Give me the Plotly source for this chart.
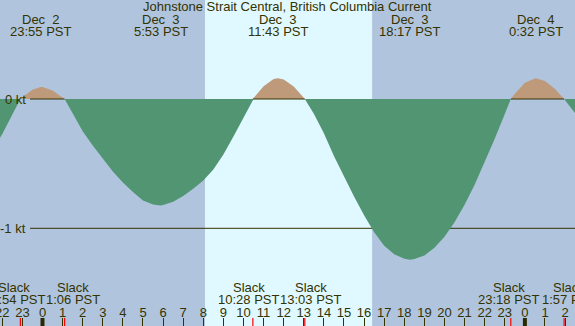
import plotly.graph_objects as go

# ---------------- data ----------------
title_text = "Johnstone Strait Central, British Columbia Current"

# hours since Dec 3 00:00 PST, current speed in knots
curve_hours = [-2.5, -2.0, -1.5, -1.1, -1.0, -0.5, -0.083, 0.0, 0.5, 1.0, 1.1,
               1.5, 2.0, 2.5, 3.0, 3.5, 4.0, 4.5, 5.0, 5.5, 5.883, 6.0, 6.5,
               7.0, 7.5, 8.0, 8.5, 9.0, 9.5, 10.0, 10.467, 10.5, 11.0, 11.5,
               11.717, 12.0, 12.5, 13.0, 13.05, 13.5, 14.0, 14.5, 15.0, 15.5,
               16.0, 16.5, 17.0, 17.5, 18.0, 18.283, 18.5, 19.0, 19.5, 20.0,
               20.5, 21.0, 21.5, 22.0, 22.5, 23.0, 23.3, 23.5, 24.0, 24.533,
               25.0, 25.5, 25.95, 26.5, 27.0]
curve_kt = [-0.40, -0.27, -0.12, 0.0, 0.014, 0.072, 0.093, 0.092, 0.066, 0.012, 0.0,
            -0.11, -0.25, -0.36, -0.46, -0.56, -0.645, -0.72, -0.785, -0.815, -0.823, -0.82, -0.795,
            -0.75, -0.695, -0.63, -0.545, -0.43, -0.29, -0.145, 0.0, 0.007, 0.099, 0.154,
            0.16, 0.151, 0.097, 0.009, 0.0, -0.115, -0.265, -0.44, -0.60, -0.755,
            -0.90, -1.03, -1.135, -1.20, -1.235, -1.243, -1.237, -1.21, -1.15, -1.065,
            -0.953, -0.818, -0.663, -0.491, -0.308, -0.116, 0.0, 0.040, 0.125, 0.16,
            0.139, 0.077, 0.0, -0.11, -0.22]

max_day_labels = ["Dec\u00a0\u00a02", "Dec\u00a0\u00a03", "Dec\u00a0\u00a03", "Dec\u00a0\u00a03", "Dec\u00a0\u00a04"]
max_day_offset = [-1, 0, 0, 0, 1]
max_times = ["23:55", "5:53", "11:43", "18:17", "0:32"]

slack_day_offset = [-1, 0, 0, 0, 0, 1]
slack_times = ["22:54", "1:06", "10:28", "13:03", "23:18", "1:57"]
flood_pairs = [(0, 1), (2, 3), (4, 5)]

sunrise, sunset = "8:05", "16:24"
midnights = [0, 24]
hour_ticks = list(range(-2, 27))
y_tick_vals = [0, -1]
y_tick_text = ["0 kt", "-1 kt"]

# ---------------- style ----------------
W, H = 575, 326
X_RANGE = [-2.114, 26.493]
Y_RANGE = [-1.7556, 0.7657]
TXT = "#333300"
NIGHT = "#B0C4DE"
DAY = "#E0F8FF"
EBB = "#519572"
FLOOD = "#BE9A7A"
FONT = "Liberation Sans"
FS = 13


def to_hours(t, day):
    h, m = t.split(":")
    return day * 24 + int(h) + int(m) / 60.0


def py(ypx):
    return 1 - ypx / H


max_hours = [to_hours(t, d) for t, d in zip(max_times, max_day_offset)]
slack_hours = [to_hours(t, d) for t, d in zip(slack_times, slack_day_offset)]

ebb_vals = [min(v, 0.0) for v in curve_kt]
flood_vals = [max(v, 0.0) for v in curve_kt]

fig = go.Figure()
fig.add_trace(go.Scatter(x=curve_hours, y=ebb_vals, mode="lines", fill="tozeroy",
                         fillcolor=EBB, line=dict(width=0, color=EBB), hoverinfo="skip"))
fig.add_trace(go.Scatter(x=curve_hours, y=flood_vals, mode="lines", fill="tozeroy",
                         fillcolor=FLOOD, line=dict(width=0, color=FLOOD), hoverinfo="skip"))

shapes = []
shapes.append(dict(type="rect", xref="x", yref="paper", x0=to_hours(sunrise, 0), x1=to_hours(sunset, 0),
                   y0=0, y1=1, fillcolor=DAY, line=dict(width=0), layer="below"))
label_gap_x = X_RANGE[0] + 30 / W * (X_RANGE[1] - X_RANGE[0])
# -1 kt line (under fills)
shapes.append(dict(type="line", xref="paper", yref="y", x0=30 / W, x1=1, y0=-1, y1=-1,
                   line=dict(color=TXT, width=1), layer="below"))
# 0 kt line under flood humps
for a, b in flood_pairs:
    shapes.append(dict(type="line", xref="x", yref="y", x0=max(slack_hours[a], label_gap_x),
                       x1=slack_hours[b], y0=0, y1=0, line=dict(color=TXT, width=1.2), layer="above"))
# slack marks
for s in slack_hours:
    shapes.append(dict(type="line", xref="x", yref="paper", x0=s, x1=s, y0=0, y1=8 / H,
                       line=dict(color="#FF0000", width=1.2)))
# midnight marks
for m in midnights:
    shapes.append(dict(type="line", xref="x", yref="paper", x0=m, x1=m, y0=0, y1=8 / H,
                       line=dict(color="#2A2A00", width=4)))

ann = []
ann.append(dict(text=title_text, xref="paper", yref="paper", x=0.5, y=py(7),
                showarrow=False, xanchor="center", yanchor="middle"))
for h, d, t in zip(max_hours, max_day_labels, max_times):
    ann.append(dict(text=d, xref="x", yref="paper", x=h, y=py(20), showarrow=False,
                    xanchor="center", yanchor="middle"))
    ann.append(dict(text=t + " PST", xref="x", yref="paper", x=h, y=py(32), showarrow=False,
                    xanchor="center", yanchor="middle"))
slack_label_shift = [-6, 8, -4, 6, -2, 5]
for h, t, sh in zip(slack_hours, slack_times, slack_label_shift):
    ann.append(dict(text="Slack", xref="x", yref="paper", x=h, y=py(287), xshift=sh,
                    showarrow=False, xanchor="center", yanchor="middle"))
    ann.append(dict(text=t + " PST", xref="x", yref="paper", x=h, y=py(299), xshift=sh,
                    showarrow=False, xanchor="center", yanchor="middle"))
for v, t in zip(y_tick_vals, y_tick_text):
    ann.append(dict(text=t, xref="paper", yref="y", x=28 / W, y=v, showarrow=False,
                    xanchor="right", yanchor="middle"))

fig.update_layout(
    width=W, height=H,
    margin=dict(l=0, r=0, t=0, b=0, pad=0, autoexpand=False),
    paper_bgcolor=NIGHT, plot_bgcolor=NIGHT,
    showlegend=False,
    font=dict(family=FONT, size=FS, color=TXT),
    shapes=shapes, annotations=ann,
    xaxis=dict(range=X_RANGE, showgrid=False, zeroline=False, showline=False, automargin=False,
               tickmode="array", tickvals=hour_ticks, ticktext=[str(h % 24) for h in hour_ticks],
               ticks="inside", ticklen=8, tickwidth=1, tickcolor=TXT,
               ticklabelposition="inside", ticklabelstandoff=-2, ticklabeloverflow="allow",
               tickfont=dict(family=FONT, size=FS, color=TXT),
               fixedrange=True),
    yaxis=dict(range=Y_RANGE, showgrid=False, zeroline=False, showline=False, automargin=False,
               showticklabels=False, fixedrange=True),
)

fig.write_html("out.html", config={"displayModeBar": False},
               post_script="document.body.style.margin='0';document.body.style.overflow='hidden';")
